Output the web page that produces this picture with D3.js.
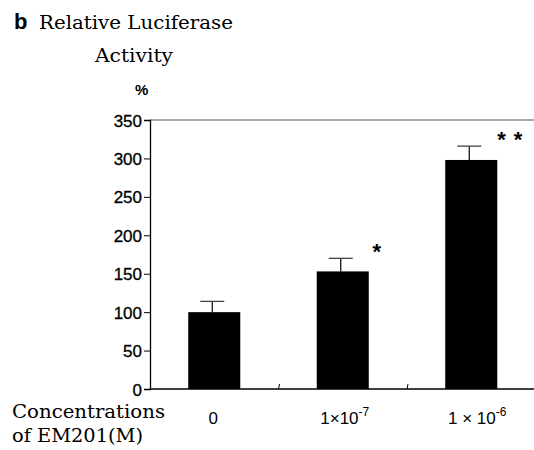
<!DOCTYPE html>
<html><head><meta charset="utf-8">
<script src="https://cdn.jsdelivr.net/npm/d3@7"></script>
<style>body{margin:0;background:#fff}svg{display:block}</style>
</head><body>
<script>
const categories = ["0", "1e-7", "1e-6"];
const means = [100, 153, 298];
const errors = [14, 17, 18];
const marks = ["", "*", "* *"];
const yTicks = [0, 50, 100, 150, 200, 250, 300, 350];

const W = 534, H = 450;
const svg = d3.select("body").append("svg").attr("width", W).attr("height", H);
const x = d3.scaleBand().domain(categories).range([150, 535.5]).padding(0);
const y = d3.scaleLinear().domain([0, 350]).range([389, 120]);
const barW = x.bandwidth() * 0.405;
const sans = "'Liberation Sans', Arial, sans-serif";
const serif = "'DejaVu Serif', serif";

// frame lines
svg.append("line").attr("x1", 150).attr("x2", 534).attr("y1", y(350)).attr("y2", y(350)).attr("stroke", "#555").attr("stroke-width", 1.2);
svg.append("line").attr("x1", 150).attr("x2", 534).attr("y1", y(0)).attr("y2", y(0)).attr("stroke", "#000").attr("stroke-width", 1.3);

// y axis
const yAxis = d3.axisLeft(y).tickValues(yTicks).tickSize(6).tickPadding(2);
const gy = svg.append("g").attr("transform", "translate(150,0)").call(yAxis);
gy.select(".domain").attr("stroke", "#000").attr("stroke-width", 1.3);
gy.selectAll(".tick line").attr("stroke", "#000");
gy.selectAll(".tick text").attr("font-family", sans).attr("font-size", 17).attr("fill", "#000").attr("dy", "0.36em")
  .attr("stroke", "#000").attr("stroke-width", 0.3);

// small ticks between categories
svg.selectAll(".sep").data(categories.slice(1)).enter().append("line")
  .attr("x1", d => x(d) + 1).attr("x2", d => x(d)).attr("y1", y(0) - 5).attr("y2", y(0))
  .attr("stroke", "#000").attr("stroke-width", 1);

// bars
svg.selectAll(".bar").data(categories).enter().append("rect")
  .attr("x", d => x(d) + x.bandwidth() / 2 - barW / 2)
  .attr("width", barW)
  .attr("y", (d, i) => y(means[i]))
  .attr("height", (d, i) => y(0) - y(means[i]))
  .attr("fill", "#000");

// error bars
categories.forEach((d, i) => {
  const cx = x(d) + x.bandwidth() / 2 - 2;
  svg.append("line").attr("x1", cx).attr("x2", cx).attr("y1", y(means[i])).attr("y2", y(means[i] + errors[i])).attr("stroke", "#000").attr("stroke-width", 1.2);
  svg.append("line").attr("x1", cx - 12).attr("x2", cx + 12).attr("y1", y(means[i] + errors[i])).attr("y2", y(means[i] + errors[i])).attr("stroke", "#444").attr("stroke-width", 1.3);
});

// significance marks
svg.append("text").attr("x", x(categories[1]) + x.bandwidth() / 2 + 34).attr("y", y(means[1] + errors[1]) + 1)
  .attr("font-family", sans).attr("font-size", 22).attr("font-weight", "bold").attr("text-anchor", "middle").text(marks[1]);
svg.append("text").attr("x", x(categories[2]) + x.bandwidth() / 2 + 39).attr("y", y(means[2] + errors[2]) + 1)
  .attr("font-family", sans).attr("font-size", 22).attr("font-weight", "bold").attr("text-anchor", "middle")
  .attr("letter-spacing", 1).style("white-space", "pre").text(marks[2]);

// x labels
const xl = svg.append("g");
xl.append("text").attr("x", x(categories[0]) + x.bandwidth() / 2 - 1).attr("y", 424).attr("text-anchor", "middle").attr("font-family", sans).attr("font-size", 17).text("0");
function sci(cx, exp, spaced) {
  const t = xl.append("text").attr("x", cx).attr("y", 424).attr("text-anchor", "middle").attr("font-family", sans).attr("font-size", 17);
  t.append("tspan").text(spaced ? "1 × 10" : "1×10");
  t.append("tspan").attr("font-size", 12).attr("dy", -8).text(exp);
}
sci(x(categories[1]) + x.bandwidth() / 2 + 2, "-7", false);
sci(x(categories[2]) + x.bandwidth() / 2 + 6, "-6", true);

svg.append("text").attr("x", 12).attr("y", 418).attr("font-family", serif).attr("font-size", 19).attr("textLength", 153).attr("lengthAdjust", "spacingAndGlyphs").text("Concentrations");
svg.append("text").attr("x", 12).attr("y", 442).attr("font-family", serif).attr("font-size", 19).attr("textLength", 131).attr("lengthAdjust", "spacingAndGlyphs").text("of EM201(M)");

// title
svg.append("text").attr("x", 14).attr("y", 29).attr("font-family", sans).attr("font-weight", "bold").attr("font-size", 22).text("b");
svg.append("text").attr("x", 39).attr("y", 29).attr("font-family", serif).attr("font-size", 19).attr("textLength", 194).attr("lengthAdjust", "spacingAndGlyphs").text("Relative Luciferase");
svg.append("text").attr("x", 95).attr("y", 62).attr("font-family", serif).attr("font-size", 19).attr("textLength", 78).attr("lengthAdjust", "spacingAndGlyphs").text("Activity");
svg.append("text").attr("x", 135).attr("y", 95).attr("font-family", sans).attr("font-weight", "bold").attr("font-size", 15).text("%");
</script>
</body></html>
